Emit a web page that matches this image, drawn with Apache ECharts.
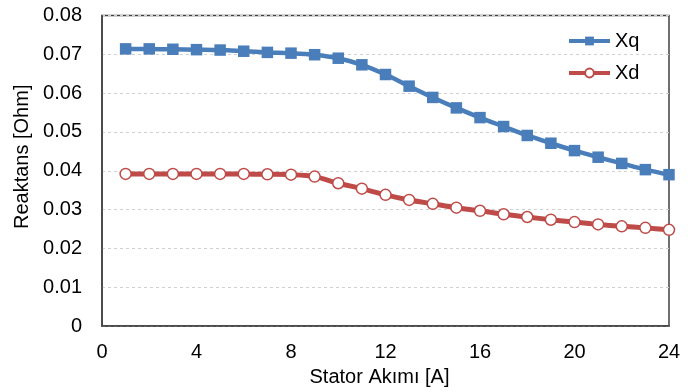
<!DOCTYPE html>
<html><head><meta charset="utf-8">
<script src="https://cdn.jsdelivr.net/npm/echarts@6/dist/echarts.min.js"></script>
<style>html,body{margin:0;padding:0;background:#fff}#c{width:698px;height:392px}</style>
</head><body><div id="c"></div>
<script>
const current = [1,2,3,4,5,6,7,8,9,10,11,12,13,14,15,16,17,18,19,20,21,22,23,24];
const xq = [0.0714,0.0714,0.0713,0.0712,0.0711,0.0708,0.0705,0.0703,0.0699,0.0690,0.0673,0.0648,0.0618,0.0589,0.0562,0.0537,0.0514,0.0491,0.0471,0.0452,0.0435,0.0419,0.0403,0.0390];
const xd = [0.0392,0.0392,0.0392,0.0392,0.0392,0.0392,0.0391,0.0390,0.0385,0.0368,0.0354,0.0338,0.0325,0.0315,0.0305,0.0297,0.0288,0.0281,0.0274,0.0268,0.0262,0.0257,0.0253,0.0248];
const xTicks = [0,4,8,12,16,20,24];
const yTicks = [0,0.01,0.02,0.03,0.04,0.05,0.06,0.07,0.08];

const chart = echarts.init(document.getElementById('c'), null, {renderer:'canvas'});
const font = 'Liberation Sans, Arial, sans-serif';
chart.setOption({
  animation:false,
  grid:{left:102,right:29,top:15.5,bottom:65.5,show:true,borderColor:'#404040',borderWidth:1.5,backgroundColor:'transparent'},
  legend:{
    left:567, top:31, padding:0, orient:'vertical', itemWidth:41, itemHeight:11, itemGap:12,
    textStyle:{fontFamily:font,fontSize:20,color:'#000',lineHeight:20},
    data:[
      {name:'Xq',lineStyle:{width:4}},
      {name:'Xd',lineStyle:{width:4}}
    ]
  },
  xAxis:{
    type:'value', min:0, max:24, interval:4,
    name:'Stator Akımı [A]', nameLocation:'middle', nameGap:37,
    nameTextStyle:{fontFamily:font,fontSize:20,color:'#000',padding:[0,12,0,0]},
    axisLine:{show:true,lineStyle:{color:'#404040',width:1.5}},
    axisTick:{show:false},
    axisLabel:{fontFamily:font,fontSize:20,color:'#000',margin:16,
      formatter:v=>xTicks.includes(v)?String(v):''},
    splitLine:{show:false}
  },
  yAxis:{
    type:'value', min:0, max:0.08, interval:0.01,
    name:'Reaktans [Ohm]', nameLocation:'middle', nameGap:65,
    nameTextStyle:{fontFamily:font,fontSize:20,color:'#000',padding:[0,0,0,28]},
    axisLine:{show:true,lineStyle:{color:'#404040',width:1.5}},
    axisTick:{show:false},
    axisLabel:{fontFamily:font,fontSize:20,color:'#000',margin:20,
      formatter:v=>{const t=yTicks.find(k=>Math.abs(k-v)<1e-9);return t===undefined?'':(t===0?'0':t.toFixed(2));}},
    splitLine:{show:true,lineStyle:{color:'#d0d0d0',type:[3,3],width:1}}
  },
  series:[
    {name:'Xq',type:'line',data:current.map((c,i)=>[c,xq[i]]),smooth:0.3,
      symbol:'rect',symbolSize:11.5,
      lineStyle:{color:'#4a7ebb',width:4.5},
      itemStyle:{color:'#4a7ebb',borderColor:'#4a7ebb',borderWidth:0}},
    {name:'Xd',type:'line',data:current.map((c,i)=>[c,xd[i]]),smooth:0.3,
      symbol:'circle',symbolSize:11,
      lineStyle:{color:'#be4b48',width:5},
      itemStyle:{color:'#ffffff',borderColor:'#be4b48',borderWidth:1.5}}
  ]
});
</script></body></html>
